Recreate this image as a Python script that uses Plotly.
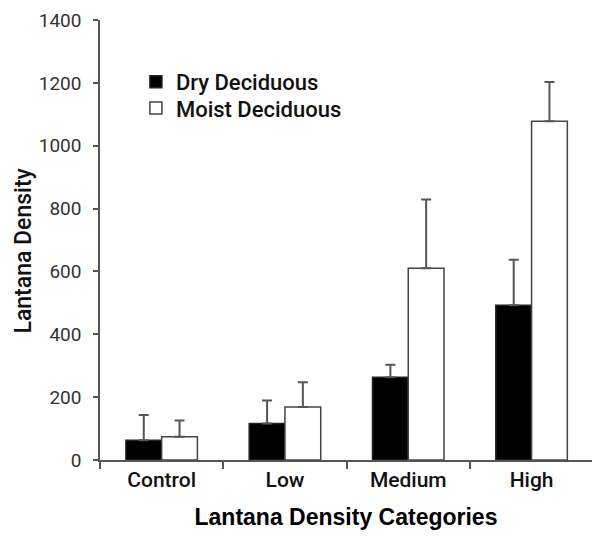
import plotly.graph_objects as go

categories = ["Control", "Low", "Medium", "High"]
dry_values = [63, 116, 263, 492]
dry_err = [80, 73, 40, 145]
moist_values = [74, 169, 610, 1078]
moist_err = [52, 78, 219, 125]
y_ticks = [0, 200, 400, 600, 800, 1000, 1200, 1400]

tick_font = "Roboto"
legend_font = dict(family=tick_font, size=22, color="#111111", weight=500)

fig = go.Figure()
fig.add_trace(go.Bar(
    x=categories, y=dry_values, name="Dry Deciduous", legend="legend",
    marker=dict(color="#000000", line=dict(color="#222222", width=1.5)),
    error_y=dict(type="data", symmetric=False, array=dry_err,
                 arrayminus=[0] * len(dry_err), color="#555555",
                 thickness=2, width=5),
))
fig.add_trace(go.Bar(
    x=categories, y=moist_values, name="Moist Deciduous", legend="legend2",
    marker=dict(color="#ffffff", line=dict(color="#444444", width=1.5)),
    error_y=dict(type="data", symmetric=False, array=moist_err,
                 arrayminus=[0] * len(moist_err), color="#555555",
                 thickness=2, width=5),
))

fig.update_layout(
    width=592, height=538,
    margin=dict(l=100, r=0, t=20, b=78),
    paper_bgcolor="white", plot_bgcolor="white",
    barmode="group", bargap=0.42, bargroupgap=0,
    showlegend=True,
    legend=dict(x=0.073, y=0.907, xanchor="left", yanchor="top",
                bgcolor="rgba(0,0,0,0)", font=legend_font, itemwidth=30),
    legend2=dict(x=0.073, y=0.847, xanchor="left", yanchor="top",
                 bgcolor="rgba(0,0,0,0)", font=legend_font, itemwidth=30),
    xaxis=dict(
        range=[-0.5, 3.49],
        showline=True, linecolor="#555555", linewidth=1.5,
        ticks="outside", tickson="boundaries", ticklen=7,
        tickcolor="#555555", tickwidth=1.5,
        tickfont=dict(family=tick_font, size=21, color="#111111", weight=500),
        showgrid=False, zeroline=False,
        title=dict(text="Lantana Density Categories", standoff=18,
                   font=dict(family="Liberation Sans", size=23,
                             color="#000000", weight="bold")),
    ),
    yaxis=dict(
        range=[0, 1400], tickvals=y_ticks,
        showline=True, linecolor="#555555", linewidth=1.5,
        ticks="outside", ticklen=5, tickcolor="#555555", tickwidth=1.5,
        ticklabelstandoff=8,
        tickfont=dict(family=tick_font, size=19, color="#333333"),
        showgrid=False, zeroline=False,
    ),
    annotations=[dict(
        text="Lantana Density", xref="paper", yref="paper",
        x=-0.1575, y=0.475, xanchor="center", yanchor="middle",
        textangle=-90, showarrow=False,
        font=dict(family=tick_font, size=23, color="#111111", weight=500),
    )],
)

fig.write_html("out.html")
